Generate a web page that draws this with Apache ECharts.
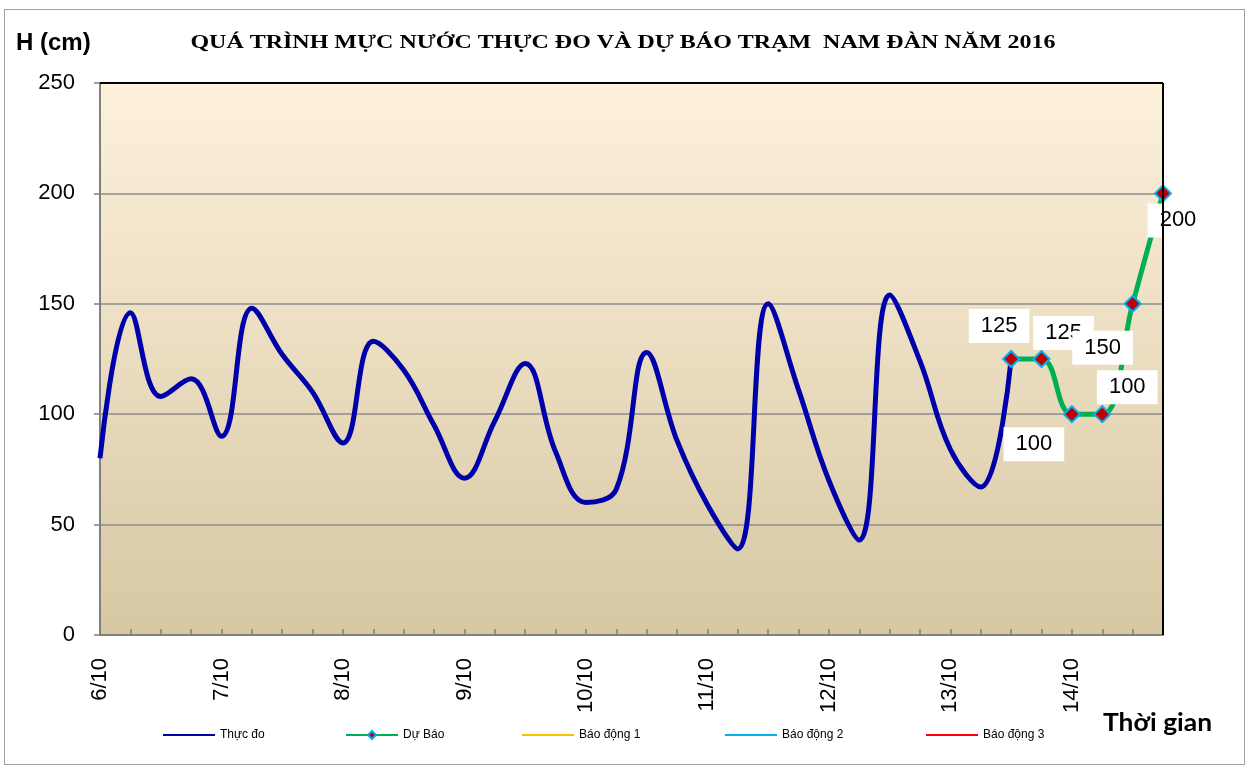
<!DOCTYPE html>
<html>
<head>
<meta charset="utf-8">
<script src="https://cdn.jsdelivr.net/npm/echarts@6/dist/echarts.min.js"></script>
<style>
html,body{margin:0;padding:0;background:#fff;}
#frame{position:absolute;left:4px;top:9px;width:1241px;height:756px;border:1.5px solid #a0a0a0;box-sizing:border-box;}
#c{position:absolute;left:0;top:0;width:1251px;height:767px;}
</style>
</head>
<body>
<div id="frame"></div>
<div id="c"></div>
<script>
// ---- data ----
var titleText = 'QUÁ TRÌNH MỰC NƯỚC THỰC ĐO VÀ DỰ BÁO TRẠM  NAM ĐÀN NĂM 2016';
var yAxisName = 'H (cm)';
var xAxisName = 'Thời gian';
var dayLabels = ['6/10','7/10','8/10','9/10','10/10','11/10','12/10','13/10','14/10'];
var stepsPerDay = 4;
var thucDo = [80,146,108,116,90,148,127,110,87,133,120,95,71,97,123,83,60,66,128,88,59,39,150,111,70,43,154,124,84,67,125];
var duBao = [125,125,100,100,150,200];
var forecastStart = 30;
var baoDong1 = [];
var baoDong2 = [];
var baoDong3 = [];

// ---- build ----
var categories = [];
for (var d = 0; d < dayLabels.length; d++) {
  for (var s = 0; s < stepsPerDay; s++) categories.push(s === 0 ? dayLabels[d] : '');
}
categories = categories.slice(0, forecastStart + duBao.length);
var obsData = thucDo.slice();
var fcData = [];
for (var i = 0; i < forecastStart; i++) fcData.push(null);
var labelOffsets = [[-12,-33],[22,-26],[-38,30],[25,-27],[-30,44],[15,27]];
for (var j = 0; j < duBao.length; j++) {
  fcData.push({ value: duBao[j], label: { offset: labelOffsets[j] } });
}

var chart = echarts.init(document.getElementById('c'), null, {renderer:'canvas'});
var legendText = { fontFamily: 'Liberation Sans, Arial', fontSize: 12, color: '#000' };
function lgLine(name, left) {
  return { top: 729, left: left, padding: 0, data: [{ name: name, icon: 'rect' }], itemWidth: 52, itemHeight: 2, itemGap: 6, textStyle: legendText };
}
chart.setOption({
  backgroundColor: 'transparent',
  animation: false,
  legend: [
    lgLine('Thực đo', 163),
    { top: 729, left: 345, padding: 0, data: ['Dự Báo'], itemWidth: 52, itemHeight: 10, textStyle: legendText },
    lgLine('Báo động 1', 522),
    lgLine('Báo động 2', 725),
    lgLine('Báo động 3', 926)
  ],
  grid: { left: 100, right: 88, top: 83, bottom: 132, containLabel: false,
    show: true, borderWidth: 0,
    backgroundColor: new echarts.graphic.LinearGradient(0,0,0,1,[{offset:0,color:'#FEF1DC'},{offset:1,color:'#D6C8A3'}]) },
  xAxis: {
    type: 'category', data: categories, boundaryGap: false,
    axisLine: { lineStyle: { color: '#808080', width: 2 } },
    axisTick: { show: true, inside: true, length: 6, interval: 0, lineStyle: { color: '#808080', width: 1.5 } },
    axisLabel: { interval: 0, rotate: 90, margin: 23, fontFamily: 'Liberation Sans, Arial', fontSize: 22, color: '#000' },
    splitLine: { show: false }
  },
  yAxis: {
    type: 'value', min: 0, max: 250, interval: 50,
    axisLine: { show: true, lineStyle: { color: '#808080', width: 2 } },
    axisTick: { show: true, length: 6, lineStyle: { color: '#808080', width: 1.5 } },
    axisLabel: { margin: 25, fontFamily: 'Liberation Sans, Arial', fontSize: 22, color: '#000' },
    splitLine: { show: true, lineStyle: { color: '#8c8c8c', width: 1.5 } }
  },
  series: [
    { name: 'Thực đo', type: 'line', data: obsData, smooth: 0.4, symbol: 'none',
      lineStyle: { color: '#0000AA', width: 5 }, itemStyle: { color: '#0000AA' }, z: 3 },
    { name: 'Dự Báo', type: 'line', data: fcData, smooth: 0.4, symbol: 'diamond', symbolSize: 16,
      lineStyle: { color: '#00B050', width: 5 },
      itemStyle: { color: '#C00000', borderColor: '#00B0F0', borderWidth: 2 },
      label: { show: true, position: 'inside', fontFamily: 'Liberation Sans, Arial', fontSize: 22, color: '#000',
        backgroundColor: '#fff', padding: [6, 12, 6, 12] }, z: 4 },
    { name: 'Báo động 1', type: 'line', data: baoDong1, symbol: 'none', lineStyle: { color: '#FFC000', width: 2 }, itemStyle: { color: '#FFC000' } },
    { name: 'Báo động 2', type: 'line', data: baoDong2, symbol: 'none', lineStyle: { color: '#00B0F0', width: 2 }, itemStyle: { color: '#00B0F0' } },
    { name: 'Báo động 3', type: 'line', data: baoDong3, symbol: 'none', lineStyle: { color: '#FF0000', width: 2 }, itemStyle: { color: '#FF0000' } }
  ],
  graphic: [
    { type: 'line', z: 10, shape: { x1: 100, y1: 83, x2: 1163, y2: 83 }, style: { stroke: '#000', lineWidth: 2 } },
    { type: 'line', z: 10, shape: { x1: 1163, y1: 83, x2: 1163, y2: 635 }, style: { stroke: '#000', lineWidth: 2 } },
    { type: 'text', x: 623, y: 43, scaleX: 1.23, z: 10,
      style: { text: titleText, fill: '#000', font: 'bold 19.5px "Liberation Serif", "Times New Roman", serif', textAlign: 'center', textVerticalAlign: 'middle' } },
    { type: 'text', x: 16, y: 43, z: 10,
      style: { text: yAxisName, fill: '#000', font: 'bold 24px "Liberation Sans", Arial, sans-serif', textAlign: 'left', textVerticalAlign: 'middle' } },
    { type: 'text', x: 1103, y: 723, scaleX: 1.1, z: 10,
      style: { text: xAxisName, fill: '#000', font: 'bold 24px Lato, "Open Sans", sans-serif', textAlign: 'left', textVerticalAlign: 'middle' } }
  ]
});
</script>
</body>
</html>
